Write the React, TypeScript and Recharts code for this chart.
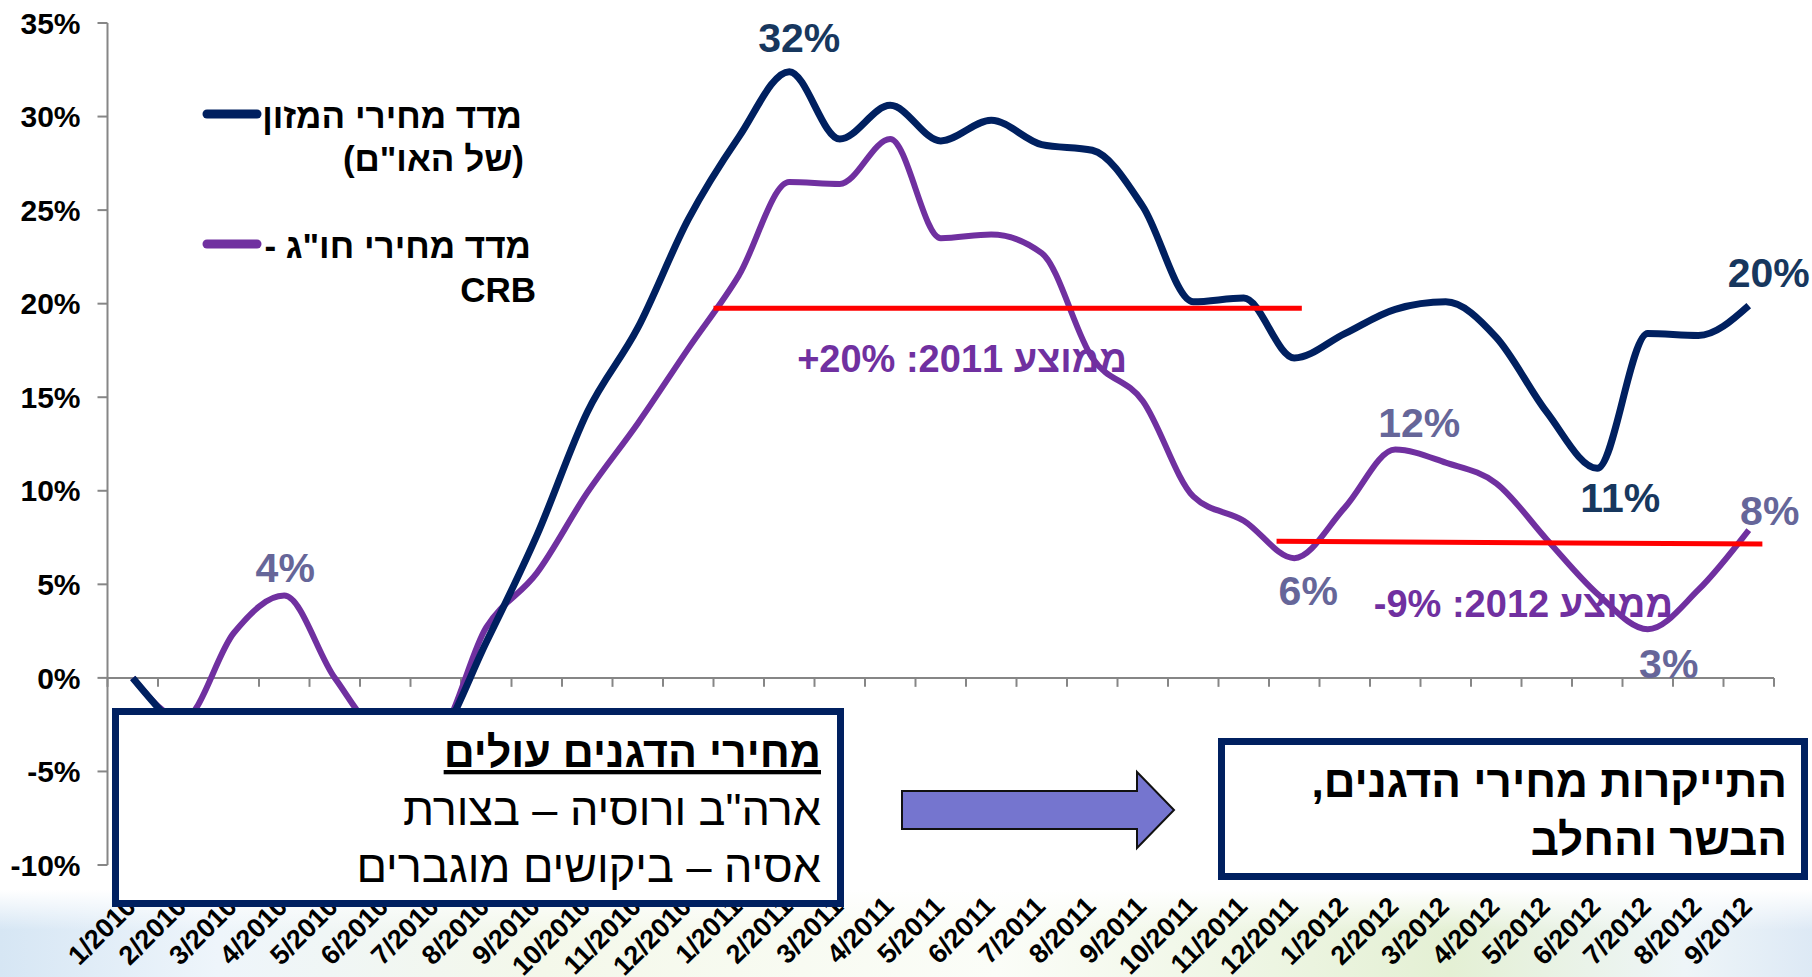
import { LineChart, Line, XAxis, YAxis, ReferenceLine, LabelList } from "recharts";

const FONT = "'Liberation Sans', Arial, Helvetica, sans-serif";

const MONTHS = [
  "1/2010", "2/2010", "3/2010", "4/2010", "5/2010", "6/2010", "7/2010", "8/2010", "9/2010",
  "10/2010", "11/2010", "12/2010", "1/2011", "2/2011", "3/2011", "4/2011", "5/2011", "6/2011",
  "7/2011", "8/2011", "9/2011", "10/2011", "11/2011", "12/2011", "1/2012", "2/2012", "3/2012",
  "4/2012", "5/2012", "6/2012", "7/2012", "8/2012", "9/2012",
];

// % change since 1/2010 - FAO food price index
const FOOD_INDEX = [
  0, -3, -5, -5, -4.5, -5, -3.5, 1.9, 7.6, 14.2, 18.7, 24.5, 28.9, 32.4, 28.8, 30.6, 28.7,
  29.8, 28.5, 28.2, 25.2, 20.1, 20.3, 17.1, 18.4, 19.7, 20.1, 18.2, 14.2, 11.2, 18.4, 18.3, 19.9,
];

// % change since 1/2010 - CRB commodities index
const CRB_INDEX = [
  0, -2.2, 2.4, 4.4, 0, -3, -3, 2.7, 5.6, 9.9, 13.6, 17.6, 21.5, 26.5, 26.4, 28.8, 23.5,
  23.7, 22.7, 17.1, 14.8, 9.7, 8.4, 6.4, 9.1, 12.2, 11.5, 10.4, 7.4, 4.5, 2.6, 4.7, 7.9,
];

const Y_TICKS = [-10, -5, 0, 5, 10, 15, 20, 25, 30, 35];

// yearly averages of the CRB index (red lines)
const AVG_2011 = { from: 11.5, to: 23.15, start: 19.75, end: 19.75 };
const AVG_2012 = { from: 22.65, to: 32.27, start: 7.3, end: 7.15 };

// which points get a value label
const FOOD_LABEL_AT = [13, 29, 32];
const CRB_LABEL_AT = [3, 23, 25, 30, 32];

const data = MONTHS.map((month, i) => ({
  idx: i,
  month,
  food: FOOD_INDEX[i],
  crb: CRB_INDEX[i],
}));

const BOUNDS = Array.from({ length: MONTHS.length + 1 }, (_, k) => k - 0.5);

const FOOD_LABEL_OFFSET: Record<number, [number, number]> = {
  13: [10, -20],
  29: [23, 44],
  32: [20, -19],
};
const CRB_LABEL_OFFSET: Record<number, [number, number]> = {
  3: [1, -14],
  23: [14, 47],
  25: [24, -13],
  30: [21, 49],
  32: [21, -5],
};

function makeLabel(show: number[], offsets: Record<number, [number, number]>, color: string) {
  return (props: any) => {
    const { x, y, index, value } = props;
    if (!show.includes(index)) return null;
    const [dx, dy] = offsets[index];
    return (
      <text
        x={x + dx}
        y={y + dy}
        textAnchor="middle"
        fontSize={41}
        fontWeight="bold"
        fontFamily={FONT}
        fill={color}
      >
        {`${Math.round(value)}%`}
      </text>
    );
  };
}

function MonthTick(props: any) {
  const { x, y, payload } = props;
  const ax = x + 5;
  const ay = y + 35;
  return (
    <text
      x={ax}
      y={ay}
      transform={`rotate(-45 ${ax} ${ay})`}
      textAnchor="end"
      fontSize={27}
      fontWeight="bold"
      fontFamily={FONT}
      fill="#000"
    >
      {MONTHS[payload.value]}
    </text>
  );
}

function Overlay() {
  const rtl = { direction: "rtl" as const, unicodeBidi: "plaintext" as any };
  return (
    <svg
      width={1812}
      height={977}
      style={{ position: "absolute", left: 0, top: 0, pointerEvents: "none" }}
      fontFamily={FONT}
    >
      {/* legend */}
      <line x1={207} y1={114} x2={257} y2={114} stroke="#002060" strokeWidth={9} strokeLinecap="round" />
      <line x1={207} y1={244} x2={257} y2={244} stroke="#7030A0" strokeWidth={9} strokeLinecap="round" />
      <g fontSize={35} fontWeight="bold" fill="#000" style={rtl} textAnchor="start">
        <text x={522} y={128}>מדד מחירי המזון</text>
        <text x={524} y={171}>(של האו"ם)</text>
        <text x={531} y={258}>מדד מחירי חו"ג -</text>
        <text x={536} y={302}>CRB</text>
      </g>

      {/* averages */}
      <g fontSize={38} fontWeight="bold" fill="#7030A0" style={rtl} textAnchor="start">
        <text x={1127} y={372}>{"ממוצע 2011: \u2066+20%\u2069"}</text>
        <text x={1673} y={617}>{"ממוצע 2012: \u2066-9%\u2069"}</text>
      </g>

      {/* left box */}
      <rect x={115.5} y={711.5} width={725} height={192} fill="#fff" stroke="#002060" strokeWidth={7} />
      <g fill="#000" style={rtl} textAnchor="start">
        <text x={821} y={767} fontSize={43} fontWeight="bold" textDecoration="underline">
          מחירי הדגנים עולים
        </text>
        <text x={821} y={825} fontSize={45}>ארה"ב  ורוסיה – בצורת</text>
        <text x={821} y={882} fontSize={45}>אסיה – ביקושים מוגברים</text>
      </g>

      {/* arrow */}
      <polygon
        points="902,791 1137,791 1137,772 1174,810 1137,848 1137,829 902,829"
        fill="#7575CF"
        stroke="#111"
        strokeWidth={2}
      />

      {/* right box */}
      <rect x={1221.5} y={741.5} width={583} height={135} fill="#fff" stroke="#002060" strokeWidth={7} />
      <g fontSize={44} fontWeight="bold" fill="#000" style={rtl} textAnchor="start">
        <text x={1787} y={797}>התייקרות מחירי הדגנים,</text>
        <text x={1787} y={855}>הבשר והחלב</text>
      </g>
    </svg>
  );
}

function Backdrop() {
  return (
    <svg width={1812} height={977} style={{ position: "absolute", left: 0, top: 0 }}>
      <defs>
        <linearGradient id="bgH" x1="0" y1="0" x2="1" y2="0">
          <stop offset="0" stopColor="#d6e6f4" />
          <stop offset="0.12" stopColor="#eef5fb" />
          <stop offset="0.3" stopColor="#f4f8ea" />
          <stop offset="0.55" stopColor="#fbfdf8" />
          <stop offset="0.8" stopColor="#e4f0d4" />
          <stop offset="0.93" stopColor="#eef5f8" />
          <stop offset="1" stopColor="#dde9f5" />
        </linearGradient>
        <linearGradient id="bgV" x1="0" y1="0" x2="0" y2="1">
          <stop offset="0" stopColor="#fff" stopOpacity="1" />
          <stop offset="1" stopColor="#fff" stopOpacity="0" />
        </linearGradient>
      </defs>
      <rect x={0} y={890} width={1812} height={87} fill="url(#bgH)" />
      <rect x={0} y={890} width={1812} height={40} fill="url(#bgV)" />
    </svg>
  );
}

export default function App() {
  return (
    <div style={{ position: "absolute", left: 0, top: 0, width: 1812, height: 977, background: "#fff", overflow: "hidden" }}>
      <Backdrop />
      <div style={{ position: "absolute", left: 0, top: 0 }}>
        <LineChart
          width={1812}
          height={977}
          data={data}
          margin={{ top: 23, right: 38, bottom: 12, left: 0.5 }}
        >
          <XAxis
            dataKey="idx"
            type="number"
            domain={[-0.5, 32.5]}
            ticks={data.map((d) => d.idx)}
            interval={0}
            height={100}
            axisLine={false}
            tickLine={false}
            tick={<MonthTick />}
          />
          <YAxis
            domain={[-10, 35]}
            ticks={Y_TICKS}
            width={107}
            tickFormatter={(v: number) => `${v}%`}
            axisLine={{ stroke: "#868686", strokeWidth: 2 }}
            tickLine={{ stroke: "#868686", strokeWidth: 2 }}
            tickSize={10}
            tickMargin={17}
            tick={{ fontSize: 30, fontWeight: "bold", fill: "#000", fontFamily: FONT }}
          />
          <ReferenceLine y={0} stroke="#868686" strokeWidth={2} />
          {BOUNDS.map((b) => (
            <ReferenceLine
              key={b}
              segment={[{ x: b, y: 0 }, { x: b, y: -0.48 }]}
              stroke="#868686"
              strokeWidth={2}
            />
          ))}
          <Line
            type="monotone"
            dataKey="crb"
            stroke="#7030A0"
            strokeWidth={6}
            dot={false}
            isAnimationActive={false}
          >
            <LabelList dataKey="crb" content={makeLabel(CRB_LABEL_AT, CRB_LABEL_OFFSET, "#666699")} />
          </Line>
          <Line
            type="monotone"
            dataKey="food"
            stroke="#002060"
            strokeWidth={7}
            dot={false}
            isAnimationActive={false}
          >
            <LabelList dataKey="food" content={makeLabel(FOOD_LABEL_AT, FOOD_LABEL_OFFSET, "#17375E")} />
          </Line>
          <ReferenceLine
            segment={[{ x: AVG_2011.from, y: AVG_2011.start }, { x: AVG_2011.to, y: AVG_2011.end }]}
            stroke="#FF0000"
            strokeWidth={5}
          />
          <ReferenceLine
            segment={[{ x: AVG_2012.from, y: AVG_2012.start }, { x: AVG_2012.to, y: AVG_2012.end }]}
            stroke="#FF0000"
            strokeWidth={5}
          />
        </LineChart>
      </div>
      <Overlay />
    </div>
  );
}
